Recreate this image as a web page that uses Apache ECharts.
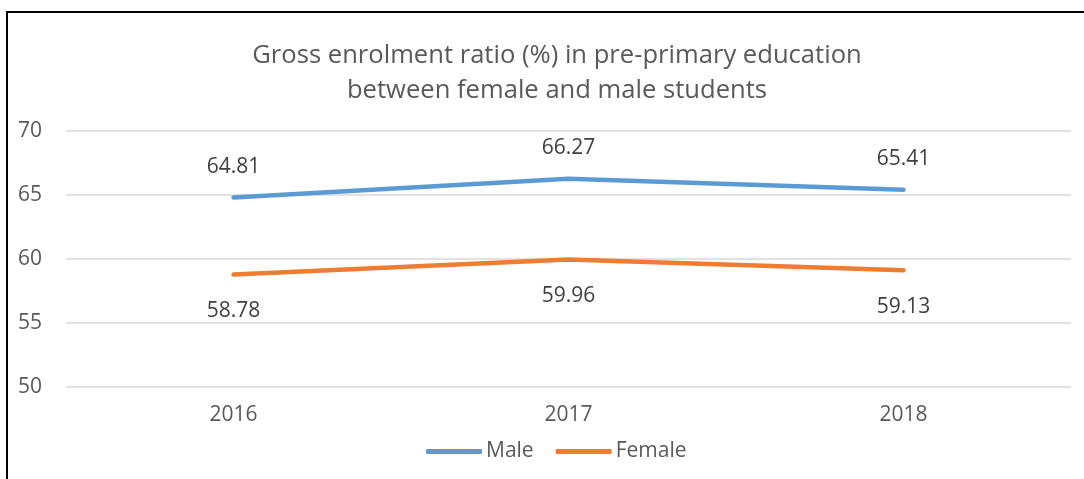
<!DOCTYPE html>
<html><head><meta charset="utf-8">
<script src="https://cdn.jsdelivr.net/npm/echarts@6/dist/echarts.min.js"></script>
<style>
html,body{margin:0;padding:0;background:#fff;}
#c{width:1084px;height:479px;position:absolute;left:0;top:0;}
#frame{position:absolute;left:6px;top:11px;width:1100px;height:500px;border-left:2px solid #000;border-top:2px solid #000;pointer-events:none;}
</style></head><body>
<div id="c"></div>
<div id="frame"></div>
<script>
const titleLines = ['Gross enrolment ratio (%) in pre-primary education', 'between female and male students'];
const years = ['2016', '2017', '2018'];
const male = [64.81, 66.27, 65.41];
const female = [58.78, 59.96, 59.13];
const yTicks = {min: 50, max: 70, interval: 5};

const font = "'Open Sans', 'Noto Sans', sans-serif";
const chart = echarts.init(document.getElementById('c'), null, {renderer: 'canvas'});
chart.setOption({
  animation: false,
  backgroundColor: '#fff',
  title: {
    text: titleLines.join('\n'),
    left: 552, textAlign: 'center', top: 33,
    textStyle: {fontFamily: font, fontSize: 25.6, fontWeight: 'normal', color: '#595959', lineHeight: 35}
  },
  legend: {
    bottom: 12, left: 421,
    itemWidth: 56, itemHeight: 5, itemGap: 22,
    icon: 'roundRect',
    textStyle: {fontFamily: font, fontSize: 21, color: '#595959', padding: [0, 0, 0, -1]},
    data: ['Male', 'Female']
  },
  grid: {left: 66, right: 13, top: 131, bottom: 92, containLabel: false, outerBoundsMode: 'none'},
  xAxis: {
    type: 'category', data: years, boundaryGap: true,
    axisLine: {show: false}, axisTick: {show: false},
    axisLabel: {fontFamily: font, fontSize: 21, color: '#595959', margin: 18}
  },
  yAxis: {
    type: 'value', min: yTicks.min, max: yTicks.max, interval: yTicks.interval,
    axisLine: {show: false}, axisTick: {show: false},
    splitLine: {lineStyle: {color: '#D9D9D9', width: 1.5}},
    axisLabel: {fontFamily: font, fontSize: 21, color: '#595959', margin: 24}
  },
  series: [
    {name: 'Male', type: 'line', data: male, symbol: 'circle', symbolSize: 0, showSymbol: true,
     lineStyle: {color: '#5B9BD5', width: 4.5, cap: 'round'}, itemStyle: {color: '#5B9BD5'},
     label: {show: true, position: 'top', distance: 20, fontFamily: font, fontSize: 21, color: '#404040', formatter: p => p.value.toFixed(2)}},
    {name: 'Female', type: 'line', data: female, symbol: 'circle', symbolSize: 0, showSymbol: true,
     lineStyle: {color: '#ED7D31', width: 4.5, cap: 'round'}, itemStyle: {color: '#ED7D31'},
     label: {show: true, position: 'bottom', distance: 26, fontFamily: font, fontSize: 21, color: '#404040', formatter: p => p.value.toFixed(2)}}
  ]
});
</script>
</body></html>
